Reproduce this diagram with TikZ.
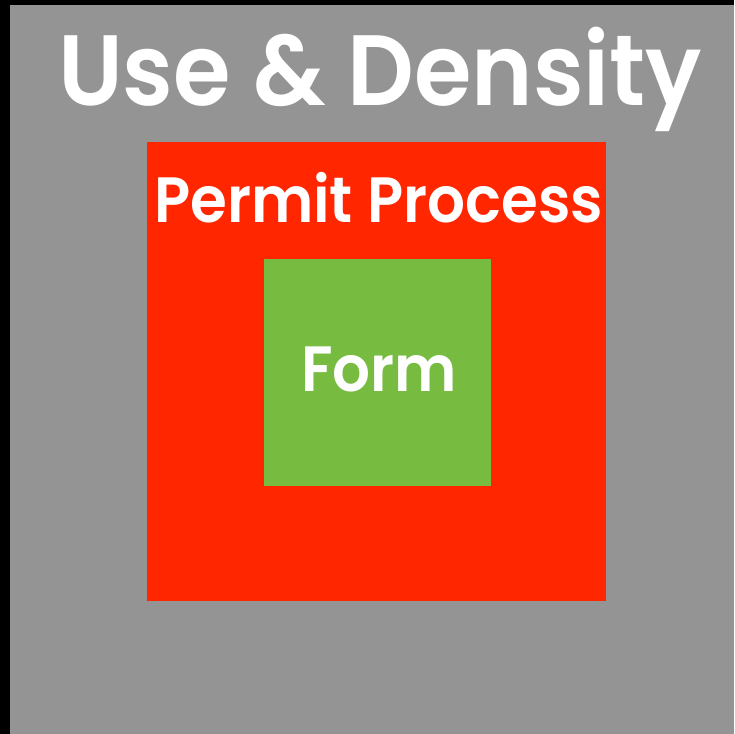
\documentclass[tikz,border=0pt]{standalone}
\usepackage{fontspec}
\setmainfont{Poppins}[BoldFont={* SemiBold}]
\definecolor{usegray}{HTML}{949494}
\definecolor{permitred}{HTML}{FF2600}
\definecolor{formgreen}{HTML}{77BB41}
\tikzset{
  layer/.style={rectangle, inner sep=0pt, outer sep=0pt},
  label text/.style={text=white, inner sep=0pt, anchor=base, xscale=0.93, transform shape}
}
\begin{document}
\begin{tikzpicture}[x=1pt, y=-1pt]
  % Frame
  \fill[black] (0,0) rectangle (734,734);
  \useasboundingbox (0,0) rectangle (734,734);

  % Boxes
  \node (use) at (372,369.5) [layer, fill=usegray, minimum width=724pt, minimum height=729pt] {};
  \node (permit) at (376.5,371.5) [layer, fill=permitred, minimum width=459pt, minimum height=459pt] {};
  \node (form) at (377.5,372.5) [layer, fill=formgreen, minimum width=227pt, minimum height=227pt] {};

  % Labels
  \node (usetext) at (380,105) [label text, font=\fontsize{100}{100}\selectfont\bfseries] {Use \& Density};
  \node (permittext) at (378.5,222) [label text, font=\fontsize{64}{64}\selectfont\bfseries] {Permit Process};
  \node (formtext) at (379,391) [label text, font=\fontsize{64}{64}\selectfont\bfseries] {Form};
\end{tikzpicture}
\end{document}
